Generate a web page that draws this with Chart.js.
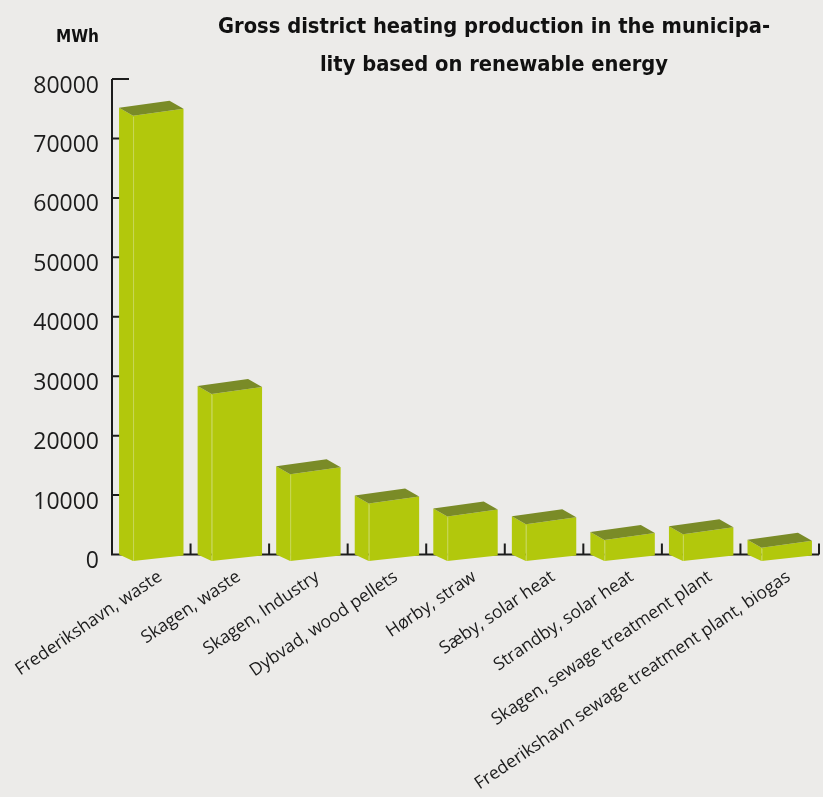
<!DOCTYPE html>
<html>
<head>
<meta charset="utf-8">
<script src="https://cdn.jsdelivr.net/npm/chart.js@4.4.1/dist/chart.umd.min.js"></script>
<style>
  html, body { margin: 0; padding: 0; background: #ecebe9; }
  canvas { display: block; }
</style>
</head>
<body>
<canvas id="chart" width="823" height="797"></canvas>
<script>
const categories = [
  'Frederikshavn, waste',
  'Skagen, waste',
  'Skagen, Industry',
  'Dybvad, wood pellets',
  'Hørby, straw',
  'Sæby, solar heat',
  'Strandby, solar heat',
  'Skagen, sewage treatment plant',
  'Frederikshavn sewage treatment plant, biogas',
];
const productionMWh = [73800, 27000, 13500, 8600, 6400, 5100, 2450, 3400, 1150];
const titleLines = [
  'Gross district heating production in the municipa-',
  'lity based on renewable energy',
];
const unitLabel = 'MWh';

const BG = '#ecebe9';
const INK = '#1c1c1c';
const FRONT = '#b2c80c';
const TOP = '#7a8b27';
const EDGE = '#c8d75a';
const TITLE_FONT = '"Liberation Sans Narrow", "DejaVu Sans Condensed", Roboto, sans-serif';
const BODY_FONT = '"Open Sans", "Noto Sans", sans-serif';

// fake 3d box: side face width, top face depth, slope of the front face
const DEPTH_X = 14;
const DEPTH_Y = 8;
const TOP_RISE = 7;
const FOOT_DROP = 6.5;
const FOOT_RISE = 5.5;

function poly(ctx, color, pts) {
  ctx.beginPath();
  ctx.moveTo(pts[0][0], pts[0][1]);
  for (let i = 1; i < pts.length; i++) ctx.lineTo(pts[i][0], pts[i][1]);
  ctx.closePath();
  ctx.fillStyle = color;
  ctx.fill();
}

const background = {
  id: 'background',
  beforeDraw(chart) {
    const ctx = chart.ctx;
    ctx.save();
    ctx.fillStyle = BG;
    ctx.fillRect(0, 0, chart.width, chart.height);
    ctx.restore();
  }
};

// axis lines with inward ticks
const axes = {
  id: 'axes',
  beforeDatasetsDraw(chart) {
    const ctx = chart.ctx;
    const xs = chart.scales.x;
    const ys = chart.scales.y;
    ctx.save();
    ctx.strokeStyle = INK;
    ctx.lineWidth = 2;
    ctx.beginPath();
    ctx.moveTo(xs.left, ys.top);
    ctx.lineTo(xs.left, ys.bottom);
    ctx.lineTo(xs.right, ys.bottom);
    ys.ticks.forEach((t, i) => {
      const py = ys.getPixelForTick(i);
      ctx.moveTo(xs.left, py);
      ctx.lineTo(xs.left + 17, py);
    });
    for (let i = 0; i <= categories.length; i++) {
      const px = xs.getPixelForValue(i - 0.5);
      ctx.moveTo(px, ys.bottom);
      ctx.lineTo(px, ys.bottom - 11);
    }
    ctx.stroke();
    ctx.restore();
  }
};

const box3d = {
  id: 'box3d',
  afterDatasetsDraw(chart) {
    const ctx = chart.ctx;
    ctx.save();
    chart.getDatasetMeta(0).data.forEach(bar => {
      const left = bar.x - bar.width / 2;
      const right = bar.x + bar.width / 2;
      const fx = left + DEPTH_X;
      const top = bar.y;
      const base = bar.base;
      // side
      poly(ctx, FRONT, [[left, top - DEPTH_Y], [fx, top], [fx, base + FOOT_DROP], [left, base]]);
      // front
      poly(ctx, FRONT, [[fx, top], [right, top - TOP_RISE], [right, base + FOOT_DROP - FOOT_RISE], [fx, base + FOOT_DROP]]);
      // lid
      poly(ctx, TOP, [[left, top - DEPTH_Y], [right - DEPTH_X, top - DEPTH_Y - TOP_RISE], [right, top - TOP_RISE], [fx, top]]);
      ctx.strokeStyle = EDGE;
      ctx.lineWidth = 1;
      ctx.beginPath();
      ctx.moveTo(fx + 0.5, top + 1);
      ctx.lineTo(fx + 0.5, base + FOOT_DROP);
      ctx.stroke();
    });
    ctx.restore();
  }
};

const heading = {
  id: 'heading',
  afterDraw(chart) {
    const ctx = chart.ctx;
    ctx.save();
    ctx.fillStyle = '#111';
    ctx.font = 'bold 22px ' + TITLE_FONT;
    // squeeze the title if the fallback font runs wider than the block
    const squeeze = Math.min(1, 552 / ctx.measureText(titleLines[0]).width);
    ctx.textAlign = 'center';
    ctx.textBaseline = 'alphabetic';
    [32.5, 71].forEach((by, i) => {
      ctx.save();
      ctx.translate(494, by);
      ctx.scale(squeeze, 1);
      ctx.fillText(titleLines[i], 0, 0);
      ctx.restore();
    });
    ctx.font = 'bold 17px ' + TITLE_FONT;
    ctx.textAlign = 'right';
    ctx.fillText(unitLabel, 99, 42);
    ctx.restore();
  }
};

new Chart(document.getElementById('chart'), {
  type: 'bar',
  data: {
    labels: categories,
    datasets: [{
      data: productionMWh,
      backgroundColor: 'rgba(0,0,0,0)',
      borderWidth: 0,
      categoryPercentage: 1,
      barPercentage: 0.82,
    }],
  },
  options: {
    responsive: false,
    animation: false,
    layout: { padding: { top: 79, right: 4, left: 0, bottom: 0 } },
    plugins: {
      legend: { display: false },
      tooltip: { enabled: false },
      title: { display: false },
    },
    scales: {
      x: {
        grid: { display: false, drawTicks: false },
        border: { display: false },
        ticks: {
          autoSkip: false,
          maxRotation: 34,
          minRotation: 34,
          padding: 12,
          labelOffset: 9,
          color: INK,
          font: { family: BODY_FONT, size: 17.5 },
        },
        afterFit: (scale) => {
          scale.height = 242.5;
          // labels may hang past the left edge, don't let them shift the plot
          scale.paddingLeft = 0;
          scale.paddingRight = 0;
        },
      },
      y: {
        min: 0,
        max: 80000,
        grid: { display: false, drawTicks: false },
        border: { display: false },
        ticks: {
          stepSize: 10000,
          padding: 13,
          labelOffset: 7,
          color: INK,
          font: { family: BODY_FONT, size: 23 },
          callback: (v) => String(v),
        },
        afterFit: (scale) => { scale.width = 112; },
      },
    },
  },
  plugins: [background, axes, box3d, heading],
});
</script>
</body>
</html>
